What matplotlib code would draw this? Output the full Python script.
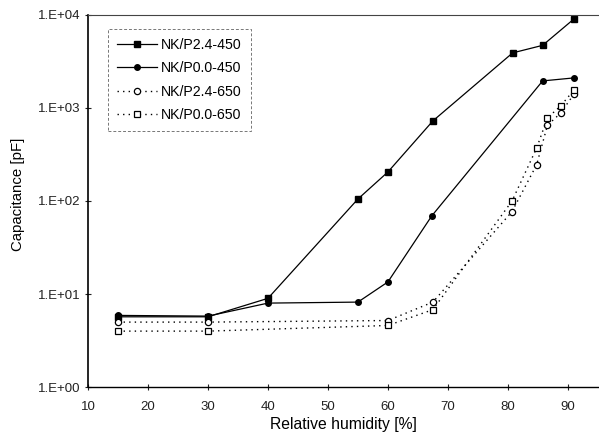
import numpy as np
import matplotlib
matplotlib.use("Agg")
import matplotlib.pyplot as plt

plt.rcParams["font.family"] = ["Liberation Sans", "DejaVu Sans"]

# NK/P2.4-450 (filled squares, solid)
rh_450_sq = [15, 30, 40, 55, 60, 67.5, 80.8, 85.8, 91]
cap_450_sq = [5.7, 5.7, 9.0, 105, 205, 725, 3900, 4700, 9000]

# NK/P0.0-450 (filled circles, solid)
rh_450_ci = [15, 30, 40, 55, 60, 67.3, 85.8, 91]
cap_450_ci = [5.9, 5.8, 8.0, 8.2, 13.5, 69, 1950, 2100]

# NK/P2.4-650 (open circles, dotted)
rh_650 = [15, 30, 60, 67.5, 80.7, 84.8, 86.6, 88.8, 91]
cap_650_ci = [5.0, 5.0, 5.2, 8.2, 77, 245, 650, 880, 1400]
# NK/P0.0-650 (open squares, dotted)
cap_650_sq = [4.0, 4.0, 4.6, 6.8, 100, 370, 780, 1050, 1550]

fig = plt.figure(figsize=(5.99, 4.36), dpi=100)
ax = fig.add_axes([0.147, 0.112, 0.853, 0.854])

ax.plot(rh_450_sq, cap_450_sq, color="black", lw=0.9, marker="s", ms=4,
        mfc="black", mec="black", label="NK/P2.4-450")
ax.plot(rh_450_ci, cap_450_ci, color="black", lw=0.9, marker="o", ms=4,
        mfc="black", mec="black", label="NK/P0.0-450")
ax.plot(rh_650, cap_650_ci, color="black", lw=1.0, ls=(0, (1, 3)), marker="o",
        ms=4.5, mfc="white", mec="black", mew=0.9, label="NK/P2.4-650")
ax.plot(rh_650, cap_650_sq, color="black", lw=1.0, ls=(0, (1, 3)), marker="s",
        ms=4.5, mfc="white", mec="black", mew=0.9, label="NK/P0.0-650")

ax.set_yscale("log")
ax.set_ylim(1, 1e4)
ax.set_xlim(10, 95.2)
ax.set_xticks(np.arange(10, 100, 10))
ax.set_yticks([1, 10, 100, 1000, 10000])
ax.set_yticklabels(["1.E+00", "1.E+01", "1.E+02", "1.E+03", "1.E+04"])
ax.yaxis.set_minor_locator(matplotlib.ticker.NullLocator())
ax.tick_params(axis="both", which="major", direction="inout", length=4,
               width=0.8, labelsize=9.5, colors="#222222")
ax.tick_params(axis="x", pad=8)

ax.spines["right"].set_visible(False)
ax.spines["top"].set_linestyle((0, (1, 1)))
ax.spines["top"].set_color("#444444")
ax.spines["left"].set_linewidth(1.2)
ax.spines["bottom"].set_linewidth(1.0)

ax.set_xlabel("Relative humidity [%]", fontsize=11.3, labelpad=3)
ax.set_ylabel("Capacitance [pF]", fontsize=10.8, labelpad=10)
ax.yaxis.set_label_coords(-0.123, 0.517)

leg = ax.legend(loc="upper left", bbox_to_anchor=(0.039, 0.962), fontsize=10.2,
                handlelength=2.8, numpoints=1, fancybox=False, frameon=True,
                borderpad=0.65, labelspacing=0.65, handletextpad=0.3,
                borderaxespad=0)
frame = leg.get_frame()
frame.set_edgecolor("#555555")
frame.set_linestyle((0, (3, 2)))
frame.set_linewidth(0.7)

fig.savefig("out.png", dpi=100)
